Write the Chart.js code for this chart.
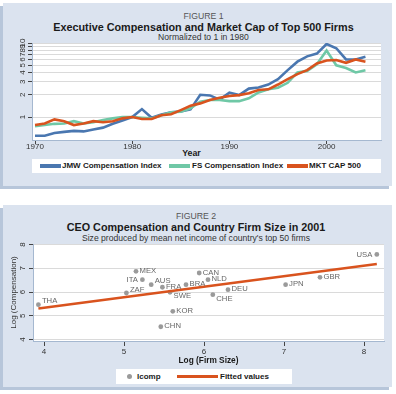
<!DOCTYPE html>
<html><head><meta charset="utf-8">
<script src="https://cdn.jsdelivr.net/npm/chart.js@4.4.1/dist/chart.umd.min.js"></script>
<style>
html,body{margin:0;padding:0;}
body{width:396px;height:394px;position:relative;overflow:hidden;background:#fff;font-family:"Liberation Sans",Arial,sans-serif;}
.panel{position:absolute;background:#dbe3ef;box-shadow:-3px 3px 0 #b7c6da;}
.t{position:absolute;text-align:center;white-space:nowrap;}
.fig{font-size:8.7px;line-height:10px;color:#555;}
.ttl{font-size:10.8px;line-height:12px;font-weight:bold;color:#1a1a1a;}
.sub{font-size:8.6px;line-height:10px;color:#333;}
.legend{position:absolute;background:#fff;}
.legend span{position:absolute;white-space:nowrap;}
.ltxt{font-size:8px;font-weight:bold;color:#1a1a1a;}
canvas{position:absolute;left:0;}
</style></head>
<body>
<div class="panel" style="left:3px;top:3px;width:389px;height:183px;"></div>
<div class="panel" style="left:3px;top:205px;width:389px;height:182px;"></div>

<div class="t fig" style="left:0;width:407px;top:10.5px;">FIGURE 1</div>
<div class="t ttl" style="left:0;width:407px;top:21.2px;">Executive Compensation and Market Cap of Top 500 Firms</div>
<div class="t sub" style="left:0;width:407px;top:31.5px;">Normalized to 1 in 1980</div>
<div class="t" style="left:0;width:383px;top:147.6px;font-size:8.8px;line-height:10px;font-weight:bold;color:#1a1a1a;">Year</div>
<div id="leg1" class="legend" style="left:32px;top:159px;width:349px;height:14px;"></div>

<div class="t fig" style="left:0;width:392px;top:210.5px;">FIGURE 2</div>
<div class="t ttl" style="left:0;width:392px;top:221.3px;">CEO Compensation and Country Firm Size in 2001</div>
<div class="t sub" style="left:0;width:392px;top:232.5px;">Size produced by mean net income of country's top 50 firms</div>
<div id="leg2" class="legend" style="left:116px;top:369px;width:176px;height:15px;"></div>

<canvas id="c1" width="396" height="157" style="top:0;"></canvas>
<canvas id="c2" width="396" height="170" style="top:200px;"></canvas>

<script>
// ---------- Figure 1 data ----------
const years = [1970,1971,1972,1973,1974,1975,1976,1977,1978,1979,1980,1981,1982,1983,1984,1985,1986,1987,1988,1989,1990,1991,1992,1993,1994,1995,1996,1997,1998,1999,2000,2001,2002,2003,2004];
const jmwIndex = [0.56,0.56,0.61,0.63,0.65,0.64,0.68,0.72,0.81,0.90,1.00,1.28,0.98,1.08,1.16,1.19,1.27,2.00,1.96,1.72,2.14,1.98,2.42,2.50,2.75,3.25,4.30,5.60,6.60,7.20,9.70,8.50,6.00,6.00,6.50];
const fsIndex = [0.755,0.78,0.81,0.82,0.88,0.82,0.85,0.91,0.96,1.00,1.00,0.98,0.96,1.06,1.16,1.18,1.31,1.61,1.70,1.70,1.64,1.64,1.79,2.15,2.37,2.49,2.90,4.00,4.20,5.15,7.90,5.00,4.60,4.00,4.30];
const mktCap500 = [0.78,0.82,0.93,0.88,0.78,0.82,0.88,0.85,0.88,0.96,1.00,0.94,0.94,1.06,1.09,1.24,1.42,1.53,1.70,1.82,1.92,1.98,2.09,2.32,2.37,2.75,3.25,3.80,4.30,5.30,5.80,5.90,5.40,6.00,5.60];
const seriesNames1 = ['JMW Compensation Index','FS Compensation Index','MKT CAP 500'];
const xTicks1 = [1970,1980,1990,2000];
const yTicks1 = [1,2,3,4,5,6,7,8,9,10];

// ---------- Figure 2 data ----------
const countries = ['THA','ZAF','MEX','ITA','AUS','FRA','SWE','KOR','CHN','BRA','CAN','NLD','CHE','DEU','JPN','GBR','USA'];
const logFirmSize = [3.93,5.03,5.15,5.23,5.34,5.48,5.575,5.61,5.46,5.775,5.94,6.05,6.11,6.30,7.02,7.45,8.16];
const logComp = [5.47,5.96,6.87,6.52,6.31,6.20,5.99,5.19,4.54,6.31,6.80,6.52,5.89,6.10,6.31,6.62,7.58];
const fittedX = [3.93,8.16];
const fittedY = [5.31,7.18];
const seriesNames2 = ['lcomp','Fitted values'];
const xTicks2 = [4,5,6,7,8];
const yTicks2 = [4,5,6,7,8];

// ---------- styles ----------
const FONT = '"Liberation Sans", Arial, sans-serif';
const BLUE = '#4a77b0', GREEN = '#6fc8a6', ORANGE = '#d9531e', DOT = '#9a9a9a';
const AXIS = '#a5b8d0', GRID = '#dadada', TICK = '#444';
const labelPlacement = {ZAF:'ur', AUS:'ur', THA:'ur', SWE:'lr', CHE:'lr', USA:'l', ITA:'l'};
const OFFS = {r:{dx:3.5,dy:-0.5,a:'left'}, ur:{dx:3.5,dy:-3.5,a:'left'}, lr:{dx:3.5,dy:4,a:'left'}, l:{dx:-4.5,dy:0,a:'right'}};

const whiteArea = {
  id:'whiteArea',
  beforeDraw(chart){
    const a = chart.chartArea, c = chart.ctx;
    c.save(); c.fillStyle='#fff'; c.fillRect(a.left,a.top,a.right-a.left,a.bottom-a.top); c.restore();
  }
};

Chart.defaults.font.family = FONT;

const c1 = new Chart(document.getElementById('c1'), {
  type:'line',
  data:{datasets:[
    {label:seriesNames1[0], data:years.map((x,i)=>({x, y:jmwIndex[i]})), borderColor:BLUE, borderWidth:2.6, pointRadius:0, tension:0, order:3},
    {label:seriesNames1[1], data:years.map((x,i)=>({x, y:fsIndex[i]})), borderColor:GREEN, borderWidth:2.6, pointRadius:0, tension:0, order:2},
    {label:seriesNames1[2], data:years.map((x,i)=>({x, y:mktCap500[i]})), borderColor:ORANGE, borderWidth:2.6, pointRadius:0, tension:0, order:1}
  ]},
  options:{
    responsive:false, animation:false, devicePixelRatio:1,
    layout:{padding:{left:0,right:15,top:43,bottom:0}},
    plugins:{legend:{display:false}, title:{display:false}, tooltip:{enabled:false}},
    scales:{
      x:{type:'linear', min:1969.69, max:2005.6,
        afterBuildTicks:s=>{s.ticks = xTicks1.map(v=>({value:v}));},
        afterFit:s=>{s.height = 17;},
        grid:{drawOnChartArea:false, drawTicks:true, tickLength:4, tickColor:TICK},
        border:{display:true, color:AXIS, width:1},
        ticks:{font:{size:8}, color:'#333', padding:-2, maxRotation:0, autoSkip:false, callback:v=>String(v)}
      },
      y:{type:'logarithmic', min:0.49, max:10,
        afterBuildTicks:s=>{s.ticks = yTicks1.map(v=>({value:v}));},
        afterFit:s=>{s.width = 32;},
        grid:{color:GRID, tickColor:TICK, tickLength:4},
        border:{display:true, color:AXIS, width:1},
        ticks:{font:{size:8}, color:'#333', minRotation:90, maxRotation:90, crossAlign:'center', padding:0.8, autoSkip:false, callback:v=>String(v)}
      }
    }
  },
  plugins:[whiteArea]
});

const countryLabels = {
  id:'countryLabels',
  afterDatasetsDraw(chart){
    const meta = chart.getDatasetMeta(1), c = chart.ctx;
    c.save();
    c.font = '7.7px ' + FONT; c.fillStyle = '#666'; c.textBaseline = 'middle';
    meta.data.forEach((pt,i)=>{
      const code = countries[i], o = OFFS[labelPlacement[code] || 'r'];
      c.textAlign = o.a;
      c.fillText(code, pt.x + o.dx, pt.y + o.dy);
    });
    c.restore();
  }
};

const c2 = new Chart(document.getElementById('c2'), {
  type:'scatter',
  data:{datasets:[
    {type:'line', label:seriesNames2[1], data:fittedX.map((x,i)=>({x, y:fittedY[i]})), borderColor:ORANGE, borderWidth:2.6, pointRadius:0, order:0},
    {label:seriesNames2[0], data:logFirmSize.map((x,i)=>({x, y:logComp[i]})), backgroundColor:DOT, borderWidth:0, pointRadius:2.4, order:1}
  ]},
  options:{
    responsive:false, animation:false, devicePixelRatio:1,
    layout:{padding:{left:0,right:12,top:44,bottom:5}},
    plugins:{legend:{display:false}, title:{display:false}, tooltip:{enabled:false}},
    scales:{
      x:{type:'linear', min:3.8625, max:8.25,
        afterBuildTicks:s=>{s.ticks = xTicks2.map(v=>({value:v}));},
        afterFit:s=>{s.height = 24;},
        grid:{drawOnChartArea:false, drawTicks:true, tickLength:5, tickColor:TICK},
        border:{display:true, color:AXIS, width:1},
        ticks:{font:{size:8}, color:'#333', padding:1, maxRotation:0, autoSkip:false, callback:v=>String(v)},
        title:{display:true, text:'Log (Firm Size)', font:{size:8.3, weight:'bold'}, color:'#1a1a1a', padding:{top:0,bottom:-1}}
      },
      y:{type:'linear', min:3.94, max:8.02,
        afterBuildTicks:s=>{s.ticks = yTicks2.map(v=>({value:v}));},
        afterFit:s=>{s.width = 33;},
        grid:{color:GRID, tickColor:TICK, tickLength:4},
        border:{display:true, color:AXIS, width:1},
        ticks:{font:{size:8}, color:'#333', minRotation:90, maxRotation:90, crossAlign:'center', padding:3.5, autoSkip:false, callback:v=>String(v)},
        title:{display:true, text:'Log (Compensation)', font:{size:8}, color:'#333', padding:{top:8.7,bottom:0}}
      }
    }
  },
  plugins:[whiteArea, countryLabels]
});

// ---------- HTML legends built from the chart datasets ----------
(function(){
  const l1 = document.getElementById('leg1');
  const sampleLeft = [8,137,255], textLeft = [30,160,277];
  c1.data.datasets.forEach((d,i)=>{
    const s = document.createElement('span');
    s.style.cssText = `left:${sampleLeft[i]}px;top:5px;width:21px;height:4px;background:${d.borderColor};`;
    l1.appendChild(s);
    const t = document.createElement('span');
    t.className = 'ltxt'; t.textContent = d.label;
    t.style.cssText += `left:${textLeft[i]}px;top:0;line-height:14px;`;
    l1.appendChild(t);
  });
  const l2 = document.getElementById('leg2');
  const dot = document.createElement('span');
  dot.style.cssText = `left:10.8px;top:5px;width:5px;height:5px;border-radius:50%;background:${DOT};`;
  l2.appendChild(dot);
  const t1 = document.createElement('span'); t1.className='ltxt'; t1.textContent = c2.data.datasets[1].label;
  t1.style.cssText += 'left:21px;top:0;line-height:15px;'; l2.appendChild(t1);
  const ln = document.createElement('span');
  ln.style.cssText = `left:60.7px;top:6px;width:41px;height:3px;background:${ORANGE};`;
  l2.appendChild(ln);
  const t2 = document.createElement('span'); t2.className='ltxt'; t2.textContent = c2.data.datasets[0].label;
  t2.style.cssText += 'left:104px;top:0;line-height:15px;'; l2.appendChild(t2);
})();
</script>
</body></html>
